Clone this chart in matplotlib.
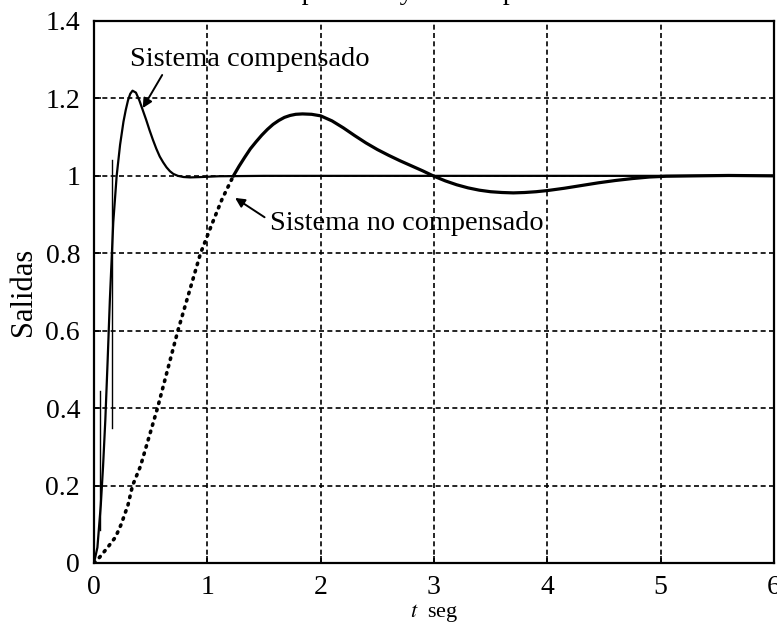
import numpy as np
import matplotlib
matplotlib.use("Agg")
import matplotlib.pyplot as plt

# ---------------- DATOS ----------------
# Sistema compensado (t en seg, salida)
t_comp = [0, 0.03, 0.06, 0.08, 0.10, 0.12, 0.14, 0.17, 0.20, 0.23, 0.26, 0.28,
          0.30, 0.32, 0.34, 0.37, 0.40, 0.43, 0.46, 0.49, 0.52, 0.55, 0.58,
          0.61, 0.64, 0.67, 0.70, 0.74, 0.79, 0.85, 0.95, 1.1, 1.5, 2.0, 3.0,
          4.0, 5.0, 6.0]
y_comp = [0, 0.04, 0.15, 0.25, 0.37, 0.52, 0.68, 0.88, 1.00, 1.08, 1.14, 1.17,
          1.195, 1.212, 1.22, 1.215, 1.195, 1.17, 1.145, 1.118, 1.093, 1.07, 1.05,
          1.035, 1.022, 1.012, 1.005, 1.0, 0.997, 0.996, 0.997, 0.999, 1.0, 1.0,
          1.0, 1.0, 1.0, 1.0]

# Sistema no compensado
t_nocomp = [0, 0.05, 0.12, 0.19, 0.24, 0.30, 0.34, 0.41, 0.47, 0.56, 0.65, 0.74,
            0.84, 0.94, 1.04, 1.13, 1.23, 1.28, 1.33, 1.38, 1.43, 1.48, 1.53,
            1.58, 1.63, 1.68, 1.73, 1.78, 1.84, 1.92, 2.0, 2.1, 2.2, 2.3, 2.4,
            2.5, 2.6, 2.7, 2.8, 2.9, 3.0, 3.1, 3.2, 3.3, 3.4, 3.5, 3.6, 3.7,
            3.8, 3.9, 4.0, 4.15, 4.3, 4.45, 4.6, 4.75, 4.9, 5.05, 5.3, 5.6, 6.0]
y_nocomp = [0, 0.015, 0.04, 0.067, 0.10, 0.15, 0.20, 0.25, 0.31, 0.40, 0.50, 0.60,
            0.70, 0.80, 0.875, 0.94, 1.0, 1.025, 1.048, 1.07, 1.088, 1.105, 1.12,
            1.133, 1.143, 1.151, 1.156, 1.159, 1.16, 1.159, 1.155, 1.142, 1.124,
            1.104, 1.085, 1.068, 1.053, 1.039, 1.026, 1.013, 0.999, 0.987, 0.977,
            0.969, 0.963, 0.959, 0.957, 0.956, 0.957, 0.959, 0.962, 0.968, 0.975,
            0.982, 0.988, 0.993, 0.997, 0.999, 1.0, 1.001, 1.0]
T_PUNTEADO = 1.23     # tramo punteado del no compensado hasta aqui

# trazos verticales sueltos cerca del origen
trazos_t = [0.05, 0.16]
trazos_y = [(0.085, 0.445), (0.35, 1.04)]

x_ticks = [0, 1, 2, 3, 4, 5, 6]
x_labels = ["0", "1", "2", "3", "4", "5", "6"]
y_ticks = [0, 0.2, 0.4, 0.6, 0.8, 1.0, 1.2, 1.4]
y_labels = ["0", "0.2", "0.4", "0.6", "0.8", "1", "1.2", "1.4"]
# ----------------------------------------

plt.rcParams['font.family'] = ['Liberation Serif', 'DejaVu Serif']
plt.rcParams['mathtext.fontset'] = 'stix'

fig = plt.figure(figsize=(7.77, 6.34), dpi=100)
ax = fig.add_axes([94 / 777, 71 / 634, 680 / 777, 542 / 634])

t_nc = np.array(t_nocomp)
y_nc = np.array(y_nocomp)
punt = t_nc <= T_PUNTEADO
sol = t_nc >= T_PUNTEADO

ax.plot(t_nc[punt], y_nc[punt], color='black', lw=2.6,
        linestyle=(0, (0.4, 1.7)), dash_capstyle='round', zorder=3)
ax.plot(t_nc[sol], y_nc[sol], color='black', lw=2.3, zorder=3)
ax.plot(t_comp, y_comp, color='black', lw=1.6, zorder=4)

for tx, (ya, yb) in zip(trazos_t, trazos_y):
    ax.plot([tx, tx], [ya, yb], color='black', lw=1.0, zorder=4)

ax.set_xlim(0, 6)
ax.set_ylim(0, 1.4)
ax.set_xticks(x_ticks)
ax.set_xticklabels(x_labels)
ax.set_yticks(y_ticks)
ax.set_yticklabels(y_labels)
ax.tick_params(axis='both', direction='in', length=5, width=1.2, labelsize=20)
ax.tick_params(axis='x', pad=9)
ax.tick_params(axis='y', pad=10)

ax.grid(True, color='black', lw=1.2, linestyle=(0, (3, 2)))
for sp in ax.spines.values():
    sp.set_linewidth(1.6)

ax.set_ylabel("Salidas", fontsize=22, labelpad=5)
ax.set_xlabel(r"$\it{t}$  seg", fontsize=16, labelpad=1)

# anotaciones
ax.annotate("Sistema compensado", xy=(0.43, 1.175), xytext=(0.32, 1.30),
            fontsize=20.5, va='center', ha='left',
            arrowprops=dict(arrowstyle='-|>', color='black', lw=1.4,
                            shrinkA=0, shrinkB=0, mutation_scale=14,
                            relpos=(0.14, 0.0)))
ax.annotate("Sistema no compensado", xy=(1.245, 0.943), xytext=(1.55, 0.878),
            fontsize=20.3, va='center', ha='left',
            arrowprops=dict(arrowstyle='-|>', color='black', lw=1.4,
                            shrinkA=2, shrinkB=0, mutation_scale=14,
                            relpos=(0.0, 0.6)))

# titulo cortado por el borde superior
fig.text(148 / 777, 1.0 + 1 / 634, "Sistemas compensado y no compensado",
         fontsize=20, ha='left', va='baseline')

fig.savefig("out.png", dpi=100)
